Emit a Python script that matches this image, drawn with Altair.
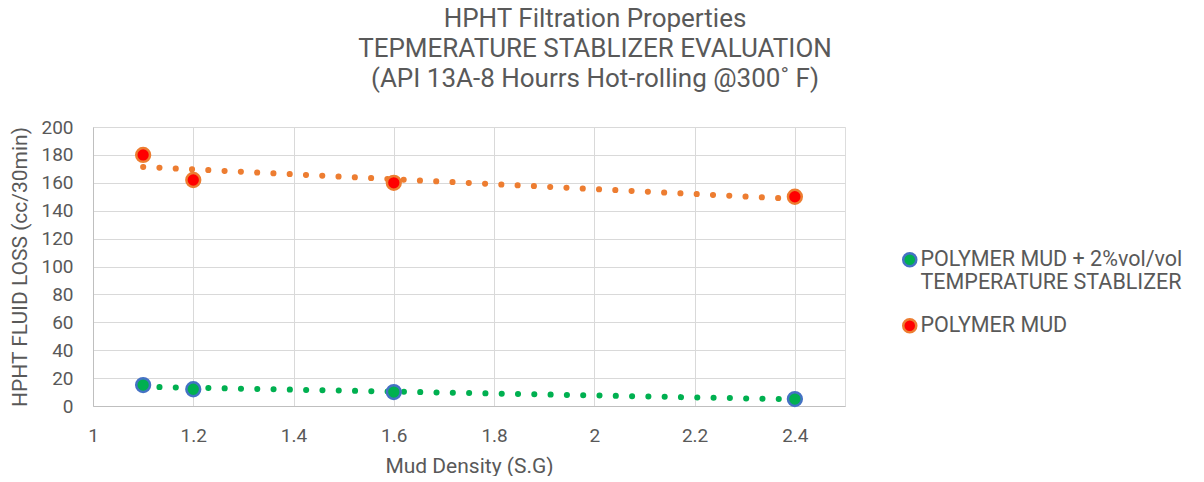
import altair as alt
import pandas as pd

density = [1.1, 1.2, 1.6, 2.4]
polymer_stab = [15, 12, 10, 5]
polymer_mud = [180, 162, 160, 150]
series_names = ["POLYMER MUD + 2%vol/vol|TEMPERATURE STABLIZER", "POLYMER MUD"]
x_ticks = [1.0, 1.2, 1.4, 1.6, 1.8, 2.0, 2.2, 2.4]
y_ticks = list(range(0, 201, 20))

rows = []
for d, v in zip(density, polymer_stab):
    rows.append({"x": d, "y": v, "series": series_names[0]})
for d, v in zip(density, polymer_mud):
    rows.append({"x": d, "y": v, "series": series_names[1]})
df = pd.DataFrame(rows)

FONT = "Roboto"
GRAY = "#595959"

xscale = alt.Scale(domain=[1.0, 2.5], nice=False, zero=False)
yscale = alt.Scale(domain=[0, 200], nice=False)

xenc = alt.X("x:Q", scale=xscale, title="Mud Density (S.G)",
             axis=alt.Axis(values=x_ticks, format=".1~f", grid=True, gridColor="#D9D9D9",
                           domainColor="#BFBFBF", ticks=False, labelPadding=20,
                           labelFontSize=19, titleFontSize=21, labelColor=GRAY, titleColor=GRAY,
                           titleFontWeight="normal", labelFont=FONT, titleFont=FONT, titlePadding=10,
                           labelFlush=False, labelOverlap=False))
yenc = alt.Y("y:Q", scale=yscale, title="HPHT FLUID LOSS (cc/30min)",
             axis=alt.Axis(values=y_ticks, grid=True, gridColor="#D9D9D9",
                           domainColor="#BFBFBF", ticks=False, labelPadding=20,
                           labelFontSize=19, titleFontSize=21, labelColor=GRAY, titleColor=GRAY,
                           titleFontWeight="normal", labelFont=FONT, titleFont=FONT, titlePadding=10,
                           labelOverlap=False))

legend = alt.Legend(title=None, orient="none", legendX=806, legendY=122,
                    labelExpr="split(datum.label, '|')", labelFontSize=21.5,
                    labelFont=FONT, labelColor=GRAY, labelLimit=400,
                    rowPadding=20, symbolSize=170,
                    symbolStrokeWidth=2.5, labelOffset=0)

trend_color = alt.Color("series:N", scale=alt.Scale(domain=series_names, range=["#00B050", "#ED7D31"]), legend=None)

trend = alt.Chart(df).transform_regression(
    "x", "y", groupby=["series"]
).mark_line(strokeDash=[0.1, 16.2], strokeCap="round", strokeWidth=6).encode(
    x=xenc, y=yenc, color=trend_color
)

points = alt.Chart(df).mark_point(filled=False, size=190, strokeWidth=2.5, opacity=1).encode(
    x=xenc, y=yenc,
    fill=alt.Fill("series:N", scale=alt.Scale(domain=series_names, range=["#00B050", "#FF0000"]),
                  legend=legend),
    stroke=alt.Stroke("series:N", scale=alt.Scale(domain=series_names, range=["#4472C4", "#ED7D31"]),
                      legend=legend),
)

chart = alt.layer(trend, points).resolve_scale(color="independent").properties(
    width=752, height=279,
    autosize=alt.AutoSizeParams(type="none"),
    padding={"left": 85, "top": 119, "right": 345, "bottom": 70},
    title=alt.TitleParams(
        text=["HPHT Filtration Properties", "TEPMERATURE STABLIZER EVALUATION",
              "(API 13A-8 Hourrs Hot-rolling @300\u02da F)"],
        fontSize=26, font=FONT, color=GRAY, fontWeight="normal", anchor="middle",
        dx=126, offset=26, lineHeight=30),
).configure_view(stroke=None).configure(background="white")

chart.save("out.html", embed_options={"renderer": "svg", "actions": False})
